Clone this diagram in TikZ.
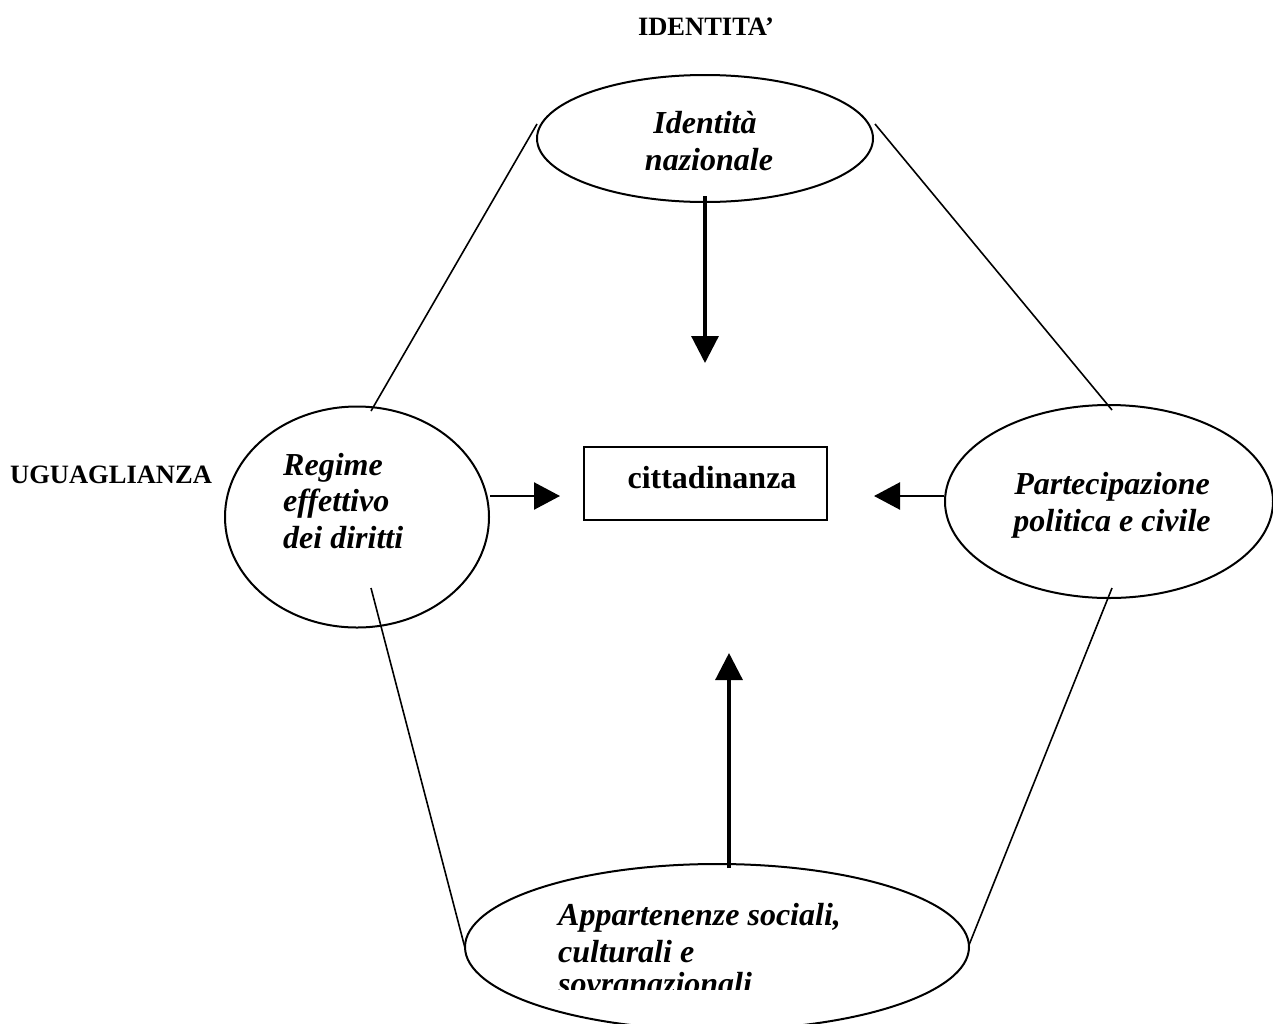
\documentclass[tikz,border=0pt]{standalone}
\usepackage{fontspec}
\setmainfont{Liberation Serif}
\usetikzlibrary{shapes.geometric,arrows.meta}
\tikzset{
  oval/.style={draw, ellipse, line width=2pt, inner sep=0pt},
  big/.style={font=\fontsize{32}{37}\selectfont\bfseries\itshape, inner sep=0pt},
  lab/.style={font=\fontsize{26.5}{31}\selectfont\bfseries, inner sep=0pt},
  link/.style={line width=1.6pt},
  flow/.style={line width=3.2pt, -{Triangle[length=27pt,width=27pt]}},
  hflow/.style={line width=2.4pt, -{Triangle[length=26pt,width=27pt]}}
}
\begin{document}
\begin{tikzpicture}[x=1pt,y=-1pt]
\clip (0,0) rectangle (1273,1023);
\fill[white] (0,0) rectangle (1273,1023);

% labels
\node[lab, anchor=base] (lid) at (706,35) {IDENTITA’};
\node[lab, anchor=base west] (lug) at (10,483) {UGUAGLIANZA};

% ellipses
\node[oval, minimum width=336pt, minimum height=127pt] (idn) at (705,138.5) {};
\node[oval, minimum width=264pt, minimum height=221pt] (reg) at (357,517) {};
\node[oval, minimum width=328pt, minimum height=193pt] (par) at (1109,501.5) {};
\node[oval, minimum width=504pt, minimum height=166pt] (app) at (717,947) {};

% central box
\node[draw, line width=2.8pt, minimum width=243pt, minimum height=73pt, inner sep=0pt] (cit) at (705.5,483.5) {};
\node[font=\fontsize{32}{37}\selectfont\bfseries, inner sep=0pt, anchor=base] (citt) at (712,488) {cittadinanza};

% texts in ellipses
\node[big, anchor=base] (t1a) at (705,133) {Identità};
\node[big, anchor=base] (t1b) at (709,170) {nazionale};

\node[big, anchor=base west] (t2a) at (283,475) {Regime};
\node[big, anchor=base west] (t2b) at (283,511) {effettivo};
\node[big, anchor=base west] (t2c) at (283,548) {dei diritti};

\node[big, anchor=base] (t3a) at (1112,494) {Partecipazione};
\node[big, anchor=base] (t3b) at (1112,531) {politica e civile};

\begin{scope}
\clip (0,0) rectangle (1273,989);
\node[big, anchor=base west] (t4a) at (558,925) {Appartenenze sociali,};
\node[big, anchor=base west] (t4b) at (558,962) {culturali e};
\node[big, anchor=base west] (t4c) at (558,994) {sovranazionali};
\end{scope}

% connector end points
\coordinate (idnL) at (537,124);
\coordinate (idnR) at (875,124);
\coordinate (regT) at (371,411);
\coordinate (regB) at (371,588);
\coordinate (parT) at (1112,410);
\coordinate (parB) at (1112,588);
\coordinate (appL) at (465,948);
\coordinate (appR) at (969,945);

\draw[link] (regT) -- (idnL);
\draw[link] (idnR) -- (parT);
\draw[link] (regB) -- (appL);
\draw[link] (parB) -- (appR);

% arrows
\coordinate (idnS) at (705,196);
\coordinate (tipD) at (705,363);
\coordinate (appN) at (729,868);
\coordinate (tipU) at (729,653);
\coordinate (tipR) at (560,496);
\coordinate (tipL) at (874,496);

\draw[flow] (idnS) -- (tipD);
\draw[flow] (appN) -- (tipU);
\draw[hflow] (reg.east |- tipR) -- (tipR);
\draw[hflow] (par.west |- tipL) -- (tipL);
\end{tikzpicture}
\end{document}
